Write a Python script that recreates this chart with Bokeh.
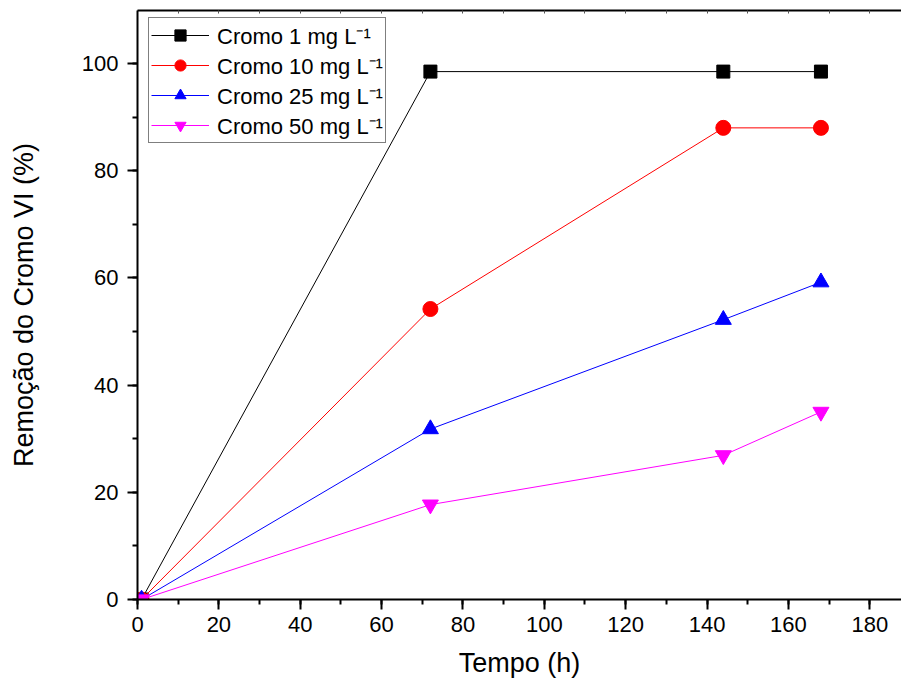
from bokeh.plotting import figure
from bokeh.models import Range1d, LinearAxis, SingleIntervalTicker, Legend, LegendItem
from bokeh.embed import file_html
from bokeh.resources import INLINE

tempo = [1, 72, 144, 168]
cromo_1 = [0, 98.5, 98.5, 98.5]
cromo_10 = [0, 54.2, 88.0, 88.0]
cromo_25 = [0, 31.8, 52.2, 59.2]
cromo_50 = [0, 17.7, 26.9, 35.0]
labels = ["Cromo 1 mg L\u207b\u00b9", "Cromo 10 mg L\u207b\u00b9",
          "Cromo 25 mg L\u207b\u00b9", "Cromo 50 mg L\u207b\u00b9"]

FONT = "Liberation Sans"

p = figure(width=901, height=687, output_backend="svg", toolbar_location=None,
           x_range=Range1d(0, 187.8), y_range=Range1d(0, 109.9),
           min_border_left=137, min_border_right=0, min_border_top=10,
           min_border_bottom=88)
p.outline_line_color = None
p.grid.visible = False
p.background_fill_color = "white"
p.border_fill_color = "white"

for ax in (p.xaxis[0], p.yaxis[0]):
    ax.axis_line_width = 2
    ax.axis_line_color = "black"
    ax.major_tick_line_width = 2
    ax.minor_tick_line_width = 2
    ax.major_tick_out = 10
    ax.major_tick_in = 0
    ax.minor_tick_out = 5
    ax.minor_tick_in = 0
    ax.major_label_text_font = FONT
    ax.major_label_text_font_size = "22px"
    ax.major_label_text_color = "black"
    ax.axis_label_text_font = FONT
    ax.axis_label_text_font_size = "27px"
    ax.axis_label_text_font_style = "normal"
    ax.axis_label_text_color = "black"

p.xaxis[0].ticker = SingleIntervalTicker(interval=20, num_minor_ticks=2)
p.yaxis[0].ticker = SingleIntervalTicker(interval=20, num_minor_ticks=2)
p.xaxis[0].axis_label = "Tempo (h)"
p.yaxis[0].axis_label = "Remoção do Cromo VI (%)"
p.xaxis[0].major_label_standoff = 7
p.yaxis[0].major_label_standoff = 9
p.xaxis[0].axis_label_standoff = 13
p.yaxis[0].axis_label_standoff = 40

top = LinearAxis(ticker=SingleIntervalTicker(interval=10, num_minor_ticks=0),
                 axis_line_width=2, axis_line_color="black",
                 major_tick_in=3, major_tick_out=0, major_tick_line_color="#555555",
                 minor_tick_line_color=None, major_label_text_font_size="0px",
                 major_label_text_color=None)
p.add_layout(top, "above")

series = [
    (cromo_1, "black", "square", 13),
    (cromo_10, "#FF0000", "circle", 15),
    (cromo_25, "#0000FF", "triangle", 16),
    (cromo_50, "#FF00FF", "inverted_triangle", 16),
]
items = []
for (vals, color, marker, size), lab in zip(series, labels):
    l = p.line(tempo, vals, line_color=color, line_width=1)
    s = p.scatter(tempo, vals, marker=marker, size=size, fill_color=color, line_color=color)
    items.append(LegendItem(label=lab, renderers=[l, s]))

legend = Legend(items=items, location=(11, 456))
legend.label_text_font = FONT
legend.label_text_font_size = "22px"
legend.label_text_color = "black"
legend.glyph_width = 58
legend.glyph_height = 28
legend.label_height = 20
legend.spacing = 0
legend.padding = 2
legend.label_standoff = 8
legend.border_line_color = "black"
legend.border_line_width = 1
legend.background_fill_alpha = 1
p.add_layout(legend, "center")

open("out.html", "w").write(file_html(p, INLINE))
